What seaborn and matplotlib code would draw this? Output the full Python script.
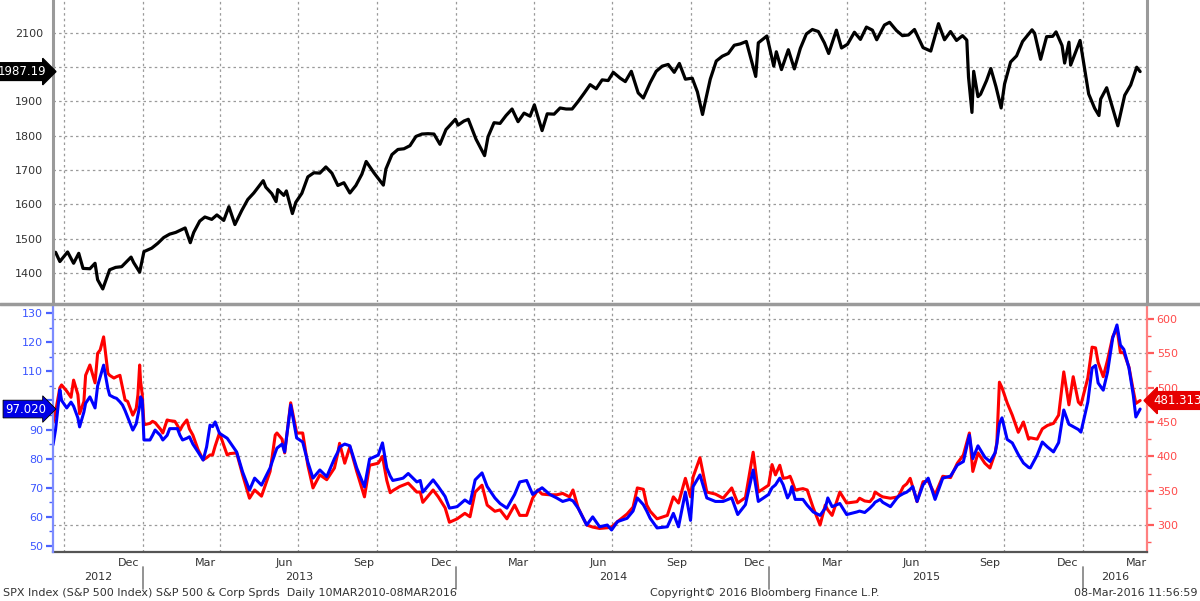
import matplotlib
matplotlib.use("Agg")
import matplotlib.pyplot as plt
import matplotlib.dates as mdates
import matplotlib.transforms as mtransforms
from matplotlib.lines import Line2D
from matplotlib.ticker import MultipleLocator, NullFormatter, FuncFormatter
import seaborn as sns
import pandas as pd

# ---------------- data ----------------
spx_dates = [
    "2012-09-18", "2012-09-21", "2012-09-26", "2012-10-05", "2012-10-12", "2012-10-18", "2012-10-23",
    "2012-10-31", "2012-11-06", "2012-11-09", "2012-11-15", "2012-11-23", "2012-11-30", "2012-12-07",
    "2012-12-18", "2012-12-21", "2012-12-28", "2013-01-02", "2013-01-11", "2013-01-18", "2013-01-25",
    "2013-02-01", "2013-02-08", "2013-02-19", "2013-02-25", "2013-03-01", "2013-03-08", "2013-03-14",
    "2013-03-22", "2013-03-28", "2013-04-05", "2013-04-11", "2013-04-18", "2013-04-26", "2013-05-03",
    "2013-05-10", "2013-05-21", "2013-05-24", "2013-05-31", "2013-06-05", "2013-06-07", "2013-06-14",
    "2013-06-17", "2013-06-24", "2013-06-28", "2013-07-05", "2013-07-12", "2013-07-19", "2013-07-26",
    "2013-08-02", "2013-08-09", "2013-08-16", "2013-08-23", "2013-08-30", "2013-09-06", "2013-09-13",
    "2013-09-18", "2013-09-27", "2013-10-08", "2013-10-11", "2013-10-18", "2013-10-25", "2013-11-01",
    "2013-11-08", "2013-11-15", "2013-11-22", "2013-11-29", "2013-12-06", "2013-12-13", "2013-12-20",
    "2013-12-31", "2014-01-03", "2014-01-10", "2014-01-15", "2014-01-24", "2014-02-03", "2014-02-07",
    "2014-02-14", "2014-02-21", "2014-02-28", "2014-03-07", "2014-03-14", "2014-03-21", "2014-03-28",
    "2014-04-02", "2014-04-11", "2014-04-17", "2014-04-25", "2014-05-02", "2014-05-09", "2014-05-16",
    "2014-05-23", "2014-05-30", "2014-06-06", "2014-06-13", "2014-06-20", "2014-06-27", "2014-07-03",
    "2014-07-11", "2014-07-17", "2014-07-24", "2014-08-01", "2014-08-07", "2014-08-15", "2014-08-22",
    "2014-08-29", "2014-09-05", "2014-09-12", "2014-09-18", "2014-09-25", "2014-10-03", "2014-10-09",
    "2014-10-15", "2014-10-17", "2014-10-24", "2014-10-31", "2014-11-07", "2014-11-14", "2014-11-21",
    "2014-11-28", "2014-12-05", "2014-12-16", "2014-12-19", "2014-12-29", "2015-01-06", "2015-01-09",
    "2015-01-15", "2015-01-23", "2015-01-30", "2015-02-06", "2015-02-13", "2015-02-20", "2015-02-27",
    "2015-03-06", "2015-03-11", "2015-03-20", "2015-03-26", "2015-04-02", "2015-04-10", "2015-04-17",
    "2015-04-24", "2015-05-01", "2015-05-06", "2015-05-15", "2015-05-21", "2015-05-29", "2015-06-05",
    "2015-06-12", "2015-06-19", "2015-06-29", "2015-07-08", "2015-07-17", "2015-07-24", "2015-07-31",
    "2015-08-07", "2015-08-14", "2015-08-19", "2015-08-21", "2015-08-25", "2015-08-27", "2015-09-01",
    "2015-09-04", "2015-09-11", "2015-09-16", "2015-09-22", "2015-09-28", "2015-10-02", "2015-10-09",
    "2015-10-16", "2015-10-23", "2015-11-03", "2015-11-06", "2015-11-13", "2015-11-20", "2015-11-27",
    "2015-12-01", "2015-12-08", "2015-12-11", "2015-12-16", "2015-12-18", "2015-12-29", "2016-01-08",
    "2016-01-15", "2016-01-20", "2016-01-22", "2016-01-29", "2016-02-05", "2016-02-11", "2016-02-19",
    "2016-02-26", "2016-03-04", "2016-03-08",
]
spx_values = [
    1459, 1460, 1433, 1461, 1428, 1457, 1413,
    1412, 1428, 1380, 1353, 1409, 1416, 1418,
    1446, 1430, 1402, 1462, 1472, 1486, 1503,
    1513, 1518, 1531, 1488, 1518, 1551, 1563,
    1556, 1569, 1553, 1593, 1541, 1582, 1614,
    1633, 1669, 1650, 1631, 1608, 1643, 1626,
    1639, 1573, 1606, 1632, 1680, 1692, 1691,
    1709, 1691, 1655, 1663, 1633, 1655, 1688,
    1725, 1692, 1656, 1703, 1745, 1760, 1762,
    1771, 1798, 1805, 1806, 1805, 1775, 1818,
    1848, 1831, 1843, 1848, 1790, 1742, 1797,
    1838, 1836, 1859, 1878, 1841, 1866, 1857,
    1890, 1815, 1864, 1863, 1881, 1878, 1878,
    1900, 1924, 1949, 1937, 1963, 1961, 1985,
    1968, 1958, 1988, 1925, 1910, 1955, 1988,
    2003, 2008, 1985, 2011, 1965, 1968, 1928,
    1862, 1886, 1965, 2018, 2032, 2040, 2064,
    2068, 2075, 1973, 2071, 2091, 2003, 2045,
    1993, 2051, 1995, 2055, 2097, 2110, 2104,
    2071, 2040, 2108, 2056, 2067, 2102, 2081,
    2117, 2108, 2080, 2123, 2131, 2107, 2092,
    2094, 2110, 2057, 2047, 2127, 2080, 2104,
    2078, 2092, 2079, 1971, 1868, 1988, 1914,
    1921, 1961, 1996, 1943, 1881, 1951, 2015,
    2033, 2075, 2109, 2099, 2023, 2089, 2090,
    2103, 2063, 2012, 2073, 2006, 2078, 1922,
    1880, 1859, 1907, 1940, 1880, 1829, 1918,
    1948, 2000, 1987.19,
]

spread_dates = [
    "2012-09-18", "2012-09-21", "2012-09-26", "2012-09-28", "2012-10-04", "2012-10-09", "2012-10-12",
    "2012-10-17", "2012-10-19", "2012-10-24", "2012-10-26", "2012-10-31", "2012-11-06", "2012-11-09",
    "2012-11-12", "2012-11-16", "2012-11-21", "2012-11-23", "2012-11-28", "2012-12-01", "2012-12-05",
    "2012-12-08", "2012-12-11", "2012-12-14", "2012-12-20", "2012-12-24", "2012-12-26", "2012-12-28",
    "2012-12-29", "2012-12-31", "2013-01-02", "2013-01-09", "2013-01-12", "2013-01-15", "2013-01-21",
    "2013-01-24", "2013-01-29", "2013-02-01", "2013-02-07", "2013-02-10", "2013-02-13", "2013-02-16",
    "2013-02-21", "2013-02-24", "2013-02-28", "2013-03-06", "2013-03-12", "2013-03-16", "2013-03-20",
    "2013-03-23", "2013-03-26", "2013-03-31", "2013-04-09", "2013-04-12", "2013-04-20", "2013-04-27",
    "2013-05-05", "2013-05-11", "2013-05-19", "2013-05-29", "2013-06-04", "2013-06-06", "2013-06-12",
    "2013-06-15", "2013-06-22", "2013-06-29", "2013-07-06", "2013-07-12", "2013-07-18", "2013-07-26",
    "2013-08-03", "2013-08-12", "2013-08-16", "2013-08-18", "2013-08-24", "2013-08-30", "2013-09-07",
    "2013-09-16", "2013-09-22", "2013-10-02", "2013-10-07", "2013-10-12", "2013-10-16", "2013-10-19",
    "2013-10-27", "2013-10-31", "2013-11-06", "2013-11-16", "2013-11-20", "2013-11-23", "2013-12-05",
    "2013-12-11", "2013-12-19", "2013-12-24", "2014-01-02", "2014-01-11", "2014-01-17", "2014-01-23",
    "2014-01-31", "2014-02-06", "2014-02-15", "2014-02-21", "2014-03-01", "2014-03-10", "2014-03-16",
    "2014-03-24", "2014-03-31", "2014-04-06", "2014-04-11", "2014-04-20", "2014-04-28", "2014-05-05",
    "2014-05-13", "2014-05-17", "2014-05-23", "2014-06-02", "2014-06-09", "2014-06-17", "2014-06-26",
    "2014-07-01", "2014-07-08", "2014-07-19", "2014-07-26", "2014-07-31", "2014-08-07", "2014-08-11",
    "2014-08-15", "2014-08-23", "2014-09-04", "2014-09-11", "2014-09-17", "2014-09-25", "2014-10-01",
    "2014-10-04", "2014-10-12", "2014-10-20", "2014-10-30", "2014-11-08", "2014-11-18", "2014-11-25",
    "2014-12-04", "2014-12-13", "2014-12-19", "2014-12-31", "2015-01-04", "2015-01-08", "2015-01-13",
    "2015-01-17", "2015-01-22", "2015-01-25", "2015-01-27", "2015-01-31", "2015-02-09", "2015-02-14",
    "2015-02-21", "2015-03-01", "2015-03-07", "2015-03-10", "2015-03-15", "2015-03-24", "2015-04-01",
    "2015-04-13", "2015-04-16", "2015-04-22", "2015-04-28", "2015-05-02", "2015-05-04", "2015-05-10",
    "2015-05-13", "2015-05-22", "2015-05-31", "2015-06-06", "2015-06-10", "2015-06-14", "2015-06-17",
    "2015-06-22", "2015-06-29", "2015-07-05", "2015-07-13", "2015-07-22", "2015-07-31", "2015-08-08",
    "2015-08-15", "2015-08-22", "2015-08-26", "2015-09-01", "2015-09-09", "2015-09-15", "2015-09-21",
    "2015-09-23", "2015-09-26", "2015-09-29", "2015-10-05", "2015-10-11", "2015-10-18", "2015-10-24",
    "2015-10-30", "2015-11-01", "2015-11-09", "2015-11-15", "2015-11-21", "2015-11-28", "2015-12-04",
    "2015-12-10", "2015-12-16", "2015-12-21", "2015-12-27", "2015-12-30", "2016-01-07", "2016-01-12",
    "2016-01-16", "2016-01-19", "2016-01-25", "2016-01-30", "2016-02-05", "2016-02-10", "2016-02-14",
    "2016-02-18", "2016-02-24", "2016-02-29", "2016-03-03", "2016-03-08",
]
ig_values = [
    84.7, 90.0, 103.6, 100.0, 97.4, 99.4, 98.0,
    94.0, 90.9, 96.0, 99.0, 101.2, 97.4, 105.0,
    108.0, 112.1, 104.0, 101.8, 101.0, 100.7, 99.5,
    98.4, 96.5, 94.3, 89.8, 92.0, 95.0, 98.0,
    101.2, 100.0, 86.4, 86.4, 88.0, 89.8, 88.0,
    86.4, 88.0, 90.3, 90.3, 90.3, 88.0, 86.4,
    87.0, 87.5, 85.0, 82.3, 79.5, 84.0, 91.5,
    91.0, 92.6, 88.7, 87.0, 85.7, 82.3, 75.4,
    69.2, 73.3, 70.9, 76.8, 82.0, 83.6, 85.0,
    82.3, 98.4, 87.1, 85.7, 78.8, 73.3, 76.1,
    73.8, 80.0, 82.3, 84.0, 85.0, 84.4, 76.8,
    70.3, 79.9, 81.2, 85.4, 76.8, 74.0, 72.5,
    73.0, 73.3, 74.9, 72.0, 72.5, 68.5, 72.7,
    70.4, 67.0, 63.0, 63.5, 65.8, 64.6, 72.7,
    75.1, 70.4, 66.5, 64.6, 63.0, 67.7, 72.0,
    72.5, 67.7, 69.0, 70.0, 67.7, 66.5, 65.3,
    66.0, 65.5, 63.0, 57.2, 60.0, 56.6, 57.2,
    55.5, 58.4, 59.5, 62.0, 66.5, 64.2, 62.0,
    59.5, 56.2, 56.6, 61.2, 56.6, 68.5, 58.8,
    70.4, 74.4, 66.5, 65.3, 65.3, 66.5, 60.8,
    64.2, 76.1, 65.3, 67.7, 70.0, 71.0, 73.3,
    71.0, 66.5, 68.0, 70.4, 66.0, 66.0, 64.0,
    61.7, 60.5, 63.0, 66.5, 63.5, 64.6, 60.8,
    61.7, 62.0, 61.5, 63.0, 64.2, 65.0, 66.0,
    65.0, 63.5, 67.0, 68.0, 68.5, 69.5, 70.4,
    65.3, 71.0, 73.3, 66.0, 73.3, 74.0, 77.8,
    79.0, 88.1, 80.0, 84.4, 80.5, 79.0, 82.0,
    85.0, 92.0, 94.0, 86.6, 85.4, 81.4, 78.5,
    77.0, 76.8, 81.2, 85.7, 84.0, 82.3, 85.5,
    96.7, 91.8, 91.0, 90.0, 89.1, 99.4, 111.1,
    112.0, 106.0, 103.5, 109.7, 121.4, 125.9, 119.0,
    117.5, 111.1, 101.8, 94.3, 97.020,
]
hy_values = [
    449, 465, 500, 504, 495, 486, 511,
    490, 462, 480, 518, 533, 507, 550,
    555, 574, 521, 518, 514, 516, 518,
    500, 482, 480, 460, 470, 490, 533,
    510, 490, 446, 448, 451, 449, 440,
    434, 453, 452, 451, 445, 438, 445,
    453, 440, 431, 410, 395, 398, 402,
    402, 415, 434, 402, 404, 405, 373,
    339, 351, 342, 378, 431, 434, 425,
    405, 478, 434, 434, 387, 354, 373,
    366, 383, 405, 419, 390, 414, 378,
    341, 387, 390, 400, 365, 347, 350,
    356, 358, 361, 348, 348, 333, 351,
    341, 325, 304, 309, 317, 312, 348,
    358, 329, 320, 322, 309, 329, 314,
    314, 339, 351, 345, 344, 344, 346,
    341, 351, 325, 300, 297, 295, 296,
    297, 305, 316, 326, 354, 352, 329,
    320, 309, 314, 341, 332, 368, 341,
    370, 398, 348, 345, 339, 354, 332,
    340, 406, 348, 358, 388, 373, 387,
    368, 369, 371, 365, 351, 353, 351,
    325, 300, 329, 322, 314, 348, 332,
    334, 339, 335, 334, 340, 348, 343,
    341, 339, 341, 356, 360, 368, 355,
    334, 363, 364, 344, 371, 369, 390,
    402, 434, 378, 405, 390, 383, 405,
    420, 508, 500, 478, 460, 435, 450,
    425, 427, 425, 440, 445, 448, 460,
    523, 475, 516, 479, 475, 514, 559,
    558, 537, 516, 540, 574, 587, 551,
    551, 530, 496, 477, 481.313,
]

x_start = "2012-09-18"
x_end = "2016-03-16"

month_label_months = [3, 6, 9, 12]
grid_months = [1, 4, 7, 10]
footer_left = "SPX Index (S&P 500 Index) S&P 500 & Corp Sprds  Daily 10MAR2010-08MAR2016"
footer_mid = "Copyright\u00a9 2016 Bloomberg Finance L.P."
footer_right = "08-Mar-2016 11:56:59"

# ---------------- style ----------------
sns.set_style("white")
plt.rcParams['font.family'] = ['DejaVu Sans']
TXT = "#333333"
GRID = "#9a9a9a"
BLUE_TXT = "#3b55ff"
RED_TXT = "#ff4a4a"

spx = pd.DataFrame({"date": pd.to_datetime(spx_dates), "value": spx_values})
spr = pd.DataFrame({"date": pd.to_datetime(spread_dates), "ig": ig_values, "hy": hy_values})
x0, x1 = pd.Timestamp(x_start), pd.Timestamp(x_end)


def hide_near(last, gap):
    # tick labels hidden where the last-value tag covers them
    return FuncFormatter(lambda v, p: "" if abs(v - last) < gap else f"{v:g}")


fig = plt.figure(figsize=(12, 6.01), dpi=100)
L, W = 53 / 1200, 1094 / 1200
ax_top = fig.add_axes([L, 1 - 302 / 601, W, 302 / 601])
ax_b = fig.add_axes([L, 1 - 552 / 601, W, 247 / 601])

# ---- top panel ----
sns.lineplot(data=spx, x="date", y="value", ax=ax_top, color="black", lw=2.3)
ax_top.set_xlim(x0, x1)
ax_top.set_ylim(1315, 2196)
ax_top.yaxis.set_major_locator(MultipleLocator(100))
ax_top.yaxis.set_minor_locator(MultipleLocator(50))
ax_top.yaxis.set_major_formatter(hide_near(spx_values[-1], 40))
ax_top.xaxis.set_major_locator(mdates.MonthLocator(bymonth=grid_months))
ax_top.tick_params(axis="x", length=0, labelbottom=False)
ax_top.tick_params(axis="y", which="major", length=5, width=1.6, color="#555555",
                   labelsize=8, labelcolor=TXT, pad=2)
ax_top.tick_params(axis="y", which="minor", length=3, width=1, color="#555555")
ax_top.grid(True, which="major", ls=(0, (2, 2.5)), color=GRID, lw=0.9)
ax_top.set_xlabel("")
ax_top.set_ylabel("")
for s in ["top", "bottom"]:
    ax_top.spines[s].set_visible(False)
for s in ["left", "right"]:
    ax_top.spines[s].set_color("#9a9a9a")
    ax_top.spines[s].set_linewidth(2.2)

# ---- bottom panel (red on primary, blue on twin so blue sits on top) ----
sns.lineplot(data=spr, x="date", y="hy", ax=ax_b, color="#ff0000", lw=2.2)
ax_t = ax_b.twinx()
sns.lineplot(data=spr, x="date", y="ig", ax=ax_t, color="#0000ff", lw=2.2)
ax_b.yaxis.tick_right()
ax_t.yaxis.tick_left()

ax_b.set_xlim(x0, x1)
ax_b.set_ylim(260.7, 620.4)
ax_t.set_ylim(47.94, 132.75)
ax_b.yaxis.set_major_locator(MultipleLocator(50))
ax_b.yaxis.set_minor_locator(MultipleLocator(25))
ax_b.yaxis.set_major_formatter(hide_near(hy_values[-1], 12))
ax_t.yaxis.set_major_locator(MultipleLocator(10))
ax_t.yaxis.set_minor_locator(MultipleLocator(5))
ax_t.yaxis.set_major_formatter(hide_near(ig_values[-1], 4))
ax_b.xaxis.set_major_locator(mdates.MonthLocator(bymonth=grid_months))
ax_b.xaxis.set_minor_locator(mdates.MonthLocator())
ax_b.xaxis.set_major_formatter(NullFormatter())
ax_b.xaxis.set_minor_formatter(NullFormatter())
ax_b.tick_params(axis="x", which="both", length=5, width=1.2, color="#555555", direction="out")
ax_b.tick_params(axis="y", which="major", length=5, width=1.6, color="#ff5a5a",
                 labelsize=8, labelcolor=RED_TXT, pad=2, right=True, left=False)
ax_b.tick_params(axis="y", which="minor", length=3, width=1, color="#ff5a5a", right=True, left=False)
ax_t.tick_params(axis="y", which="major", length=5, width=1.6, color="#4a62ff",
                 labelsize=8, labelcolor=BLUE_TXT, pad=2)
ax_t.tick_params(axis="y", which="minor", length=3, width=1, color="#4a62ff")
ax_b.grid(True, axis="both", which="major", ls=(0, (2, 2.5)), color=GRID, lw=0.9)
for a in (ax_b, ax_t):
    a.set_xlabel("")
    a.set_ylabel("")
ax_b.spines["top"].set_visible(False)
ax_b.spines["left"].set_visible(False)
ax_b.spines["right"].set_color("#ff8080")
ax_b.spines["right"].set_linewidth(1.6)
ax_b.spines["bottom"].set_color("#555555")
ax_b.spines["bottom"].set_linewidth(1.6)
for s in ["top", "right", "bottom"]:
    ax_t.spines[s].set_visible(False)
ax_t.spines["left"].set_color("#7d8cff")
ax_t.spines["left"].set_linewidth(1.6)

# ---- month / year labels ----
tb = mtransforms.blended_transform_factory(ax_b.transData, ax_b.transAxes)
for m in pd.date_range(x0.replace(day=1), x1, freq="MS"):
    if m.month in month_label_months:
        mid = m + pd.Timedelta(days=14)
        if mid < x0:
            continue
        if mid + pd.Timedelta(days=10) > x1:
            ax_b.text(x1, -0.045, m.strftime("%b"), transform=tb, ha="right", va="center",
                      fontsize=8, color=TXT)
        else:
            ax_b.text(mid, -0.045, m.strftime("%b"), transform=tb, ha="center", va="center",
                      fontsize=8, color=TXT)
for yr in range(x0.year, x1.year + 1):
    s = max(pd.Timestamp(f"{yr}-01-01"), x0)
    e = min(pd.Timestamp(f"{yr + 1}-01-01"), x1)
    ax_b.text(s + (e - s) / 2, -0.103, str(yr), transform=tb, ha="center", va="center",
              fontsize=8, color=TXT)
    if yr > x0.year:
        ax_b.add_line(Line2D([s, s], [-0.062, -0.148], transform=tb, color="#8a8a8a",
                             lw=1.3, clip_on=False))

# ---- last-value tags ----
tt = mtransforms.blended_transform_factory(ax_top.transAxes, ax_top.transData)
ax_top.text(-0.006, spx_values[-1], f"{spx_values[-1]:.2f}", transform=tt, ha="right", va="center",
            color="white", fontsize=8.5, clip_on=False, zorder=10,
            bbox=dict(boxstyle="rarrow,pad=0.2", fc="black", ec="black"))
tl = mtransforms.blended_transform_factory(ax_t.transAxes, ax_t.transData)
ax_t.text(-0.006, ig_values[-1], f"{ig_values[-1]:.3f}", transform=tl, ha="right", va="center",
          color="white", fontsize=8.5, clip_on=False, zorder=10,
          bbox=dict(boxstyle="rarrow,pad=0.2", fc="#0000e6", ec="black", lw=0.6))
tr = mtransforms.blended_transform_factory(ax_b.transAxes, ax_b.transData)
ax_b.text(1.006, hy_values[-1], f"{hy_values[-1]:.3f}", transform=tr, ha="left", va="center",
          color="white", fontsize=8.5, clip_on=False, zorder=10,
          bbox=dict(boxstyle="larrow,pad=0.2", fc="#e60000", ec="#e60000"))

# ---- separator & footer ----
fig.add_artist(Line2D([0, 1], [1 - 303.5 / 601] * 2, transform=fig.transFigure,
                      color="#9a9a9a", lw=2.5))
fig.text(3 / 1200, 1 - 593 / 601, footer_left, ha="left", va="center", fontsize=8, color=TXT)
fig.text(765 / 1200, 1 - 593 / 601, footer_mid, ha="center", va="center", fontsize=8, color=TXT)
fig.text(1198 / 1200, 1 - 593 / 601, footer_right, ha="right", va="center", fontsize=8, color=TXT)

fig.savefig("out.png", dpi=100, facecolor="white")
